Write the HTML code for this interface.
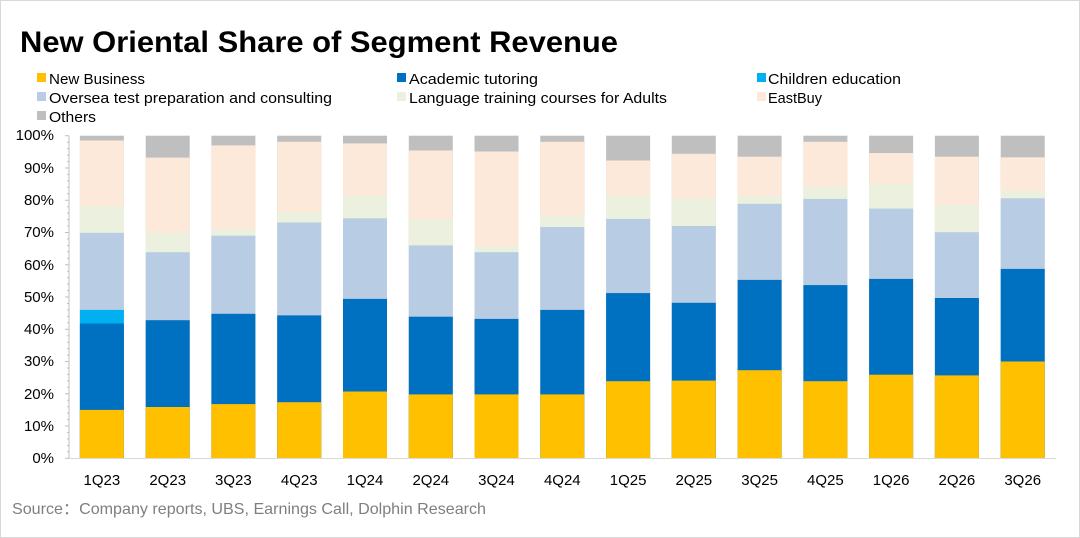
<!DOCTYPE html>
<html><head><meta charset="utf-8"><style>
html,body{margin:0;padding:0;background:#fff}
svg{display:block;font-family:"Liberation Sans",sans-serif}
</style></head><body>
<svg width="1080" height="538" viewBox="0 0 1080 538">
<rect x="0.5" y="0.5" width="1079" height="537" fill="#fff" stroke="#d9d9d9"/>
<text x="20" y="52" font-size="30" font-weight="bold" textLength="598" lengthAdjust="spacingAndGlyphs">New Oriental Share of Segment Revenue</text>
<g font-size="15" fill="#000">
<rect x="37" y="73" width="9" height="9" fill="#FFC000"/><text x="49" y="84" textLength="96" lengthAdjust="spacingAndGlyphs">New Business</text>
<rect x="37" y="92" width="9" height="9" fill="#B8CCE4"/><text x="49" y="103" textLength="283" lengthAdjust="spacingAndGlyphs">Oversea test preparation and consulting</text>
<rect x="37" y="111" width="9" height="9" fill="#BFBFBF"/><text x="49" y="122" textLength="47" lengthAdjust="spacingAndGlyphs">Others</text>
<rect x="397" y="73" width="9" height="9" fill="#0070C0"/><text x="409" y="84" textLength="129" lengthAdjust="spacingAndGlyphs">Academic tutoring</text>
<rect x="397" y="92" width="9" height="9" fill="#EBF1DE"/><text x="409" y="103" textLength="258" lengthAdjust="spacingAndGlyphs">Language training courses for Adults</text>
<rect x="757" y="73" width="9" height="9" fill="#00B0F0"/><text x="768" y="84" textLength="133" lengthAdjust="spacingAndGlyphs">Children education</text>
<rect x="757" y="92" width="9" height="9" fill="#FDE9D9"/><text x="768" y="103" textLength="54" lengthAdjust="spacingAndGlyphs">EastBuy</text>
</g>
<g font-size="15" text-anchor="end">
<text x="54" y="463">0%</text><text x="54" y="431">10%</text><text x="54" y="399">20%</text><text x="54" y="366">30%</text><text x="54" y="334">40%</text><text x="54" y="302">50%</text><text x="54" y="270">60%</text><text x="54" y="237">70%</text><text x="54" y="205">80%</text><text x="54" y="173">90%</text><text x="54" y="140">100%</text>
</g>
<line x1="69" y1="135.7" x2="69" y2="458.3" stroke="#bfbfbf"/>
<g stroke="#bfbfbf">
<path d="M65 458.3H69M65 426H69M65 393.8H69M65 361.5H69M65 329.3H69M65 297H69M65 264.7H69M65 232.5H69M65 200.2H69M65 168H69M65 135.7H69"/>
<path d="M67 451.8H69M67 445.4H69M67 439H69M67 432.5H69M67 419.5H69M67 413.1H69M67 406.7H69M67 400.2H69M67 387.3H69M67 380.9H69M67 374.4H69M67 368H69M67 355.1H69M67 348.6H69M67 342.2H69M67 335.7H69M67 322.8H69M67 316.4H69M67 309.9H69M67 303.5H69M67 290.6H69M67 284.1H69M67 277.7H69M67 271.2H69M67 258.3H69M67 251.8H69M67 245.4H69M67 239H69M67 226H69M67 219.6H69M67 213.1H69M67 206.7H69M67 193.8H69M67 187.3H69M67 180.9H69M67 174.4H69M67 161.5H69M67 155.1H69M67 148.6H69M67 142.2H69"/>
</g>
<defs>
<g id="g"><rect x="0" y="135.7" width="44" height="322.6" fill="#BFBFBF"/></g>
</defs>
<g>
<g transform="translate(79.9,0)"><use href="#g"/><rect y="140.5" width="44" height="317.8" fill="#FDE9D9"/><rect y="206.0" width="44" height="252.3" fill="#EBF1DE"/><rect y="232.8" width="44" height="225.5" fill="#B8CCE4"/><rect y="309.9" width="44" height="148.4" fill="#00B0F0"/><rect y="323.5" width="44" height="134.8" fill="#0070C0"/><rect y="409.9" width="44" height="48.4" fill="#FFC000"/></g>
<g transform="translate(145.7,0)"><use href="#g"/><rect y="157.6" width="44" height="300.7" fill="#FDE9D9"/><rect y="232.8" width="44" height="225.5" fill="#EBF1DE"/><rect y="252.2" width="44" height="206.1" fill="#B8CCE4"/><rect y="320.2" width="44" height="138.1" fill="#0070C0"/><rect y="407.0" width="44" height="51.3" fill="#FFC000"/></g>
<g transform="translate(211.4,0)"><use href="#g"/><rect y="145.4" width="44" height="312.9" fill="#FDE9D9"/><rect y="229.3" width="44" height="229.0" fill="#EBF1DE"/><rect y="235.7" width="44" height="222.6" fill="#B8CCE4"/><rect y="313.8" width="44" height="144.5" fill="#0070C0"/><rect y="404.1" width="44" height="54.2" fill="#FFC000"/></g>
<g transform="translate(277.2,0)"><use href="#g"/><rect y="141.8" width="44" height="316.5" fill="#FDE9D9"/><rect y="212.2" width="44" height="246.1" fill="#EBF1DE"/><rect y="222.5" width="44" height="235.8" fill="#B8CCE4"/><rect y="315.4" width="44" height="142.9" fill="#0070C0"/><rect y="402.2" width="44" height="56.1" fill="#FFC000"/></g>
<g transform="translate(343.0,0)"><use href="#g"/><rect y="143.4" width="44" height="314.9" fill="#FDE9D9"/><rect y="195.4" width="44" height="262.9" fill="#EBF1DE"/><rect y="218.3" width="44" height="240.0" fill="#B8CCE4"/><rect y="298.9" width="44" height="159.4" fill="#0070C0"/><rect y="391.5" width="44" height="66.8" fill="#FFC000"/></g>
<g transform="translate(408.8,0)"><use href="#g"/><rect y="150.5" width="44" height="307.8" fill="#FDE9D9"/><rect y="219.6" width="44" height="238.7" fill="#EBF1DE"/><rect y="245.4" width="44" height="212.9" fill="#B8CCE4"/><rect y="316.7" width="44" height="141.6" fill="#0070C0"/><rect y="394.4" width="44" height="63.9" fill="#FFC000"/></g>
<g transform="translate(474.5,0)"><use href="#g"/><rect y="151.5" width="44" height="306.8" fill="#FDE9D9"/><rect y="246.4" width="44" height="211.9" fill="#EBF1DE"/><rect y="252.2" width="44" height="206.1" fill="#B8CCE4"/><rect y="318.9" width="44" height="139.4" fill="#0070C0"/><rect y="394.4" width="44" height="63.9" fill="#FFC000"/></g>
<g transform="translate(540.3,0)"><use href="#g"/><rect y="141.8" width="44" height="316.5" fill="#FDE9D9"/><rect y="215.4" width="44" height="242.9" fill="#EBF1DE"/><rect y="227.0" width="44" height="231.3" fill="#B8CCE4"/><rect y="309.9" width="44" height="148.4" fill="#0070C0"/><rect y="394.4" width="44" height="63.9" fill="#FFC000"/></g>
<g transform="translate(606.1,0)"><use href="#g"/><rect y="160.5" width="44" height="297.8" fill="#FDE9D9"/><rect y="196.0" width="44" height="262.3" fill="#EBF1DE"/><rect y="218.9" width="44" height="239.4" fill="#B8CCE4"/><rect y="293.1" width="44" height="165.2" fill="#0070C0"/><rect y="381.2" width="44" height="77.1" fill="#FFC000"/></g>
<g transform="translate(671.8,0)"><use href="#g"/><rect y="153.8" width="44" height="304.5" fill="#FDE9D9"/><rect y="198.6" width="44" height="259.7" fill="#EBF1DE"/><rect y="226.0" width="44" height="232.3" fill="#B8CCE4"/><rect y="302.8" width="44" height="155.5" fill="#0070C0"/><rect y="380.6" width="44" height="77.7" fill="#FFC000"/></g>
<g transform="translate(737.6,0)"><use href="#g"/><rect y="156.7" width="44" height="301.6" fill="#FDE9D9"/><rect y="196.0" width="44" height="262.3" fill="#EBF1DE"/><rect y="203.8" width="44" height="254.5" fill="#B8CCE4"/><rect y="279.9" width="44" height="178.4" fill="#0070C0"/><rect y="370.2" width="44" height="88.1" fill="#FFC000"/></g>
<g transform="translate(803.4,0)"><use href="#g"/><rect y="141.8" width="44" height="316.5" fill="#FDE9D9"/><rect y="186.7" width="44" height="271.6" fill="#EBF1DE"/><rect y="198.9" width="44" height="259.4" fill="#B8CCE4"/><rect y="285.1" width="44" height="173.2" fill="#0070C0"/><rect y="381.2" width="44" height="77.1" fill="#FFC000"/></g>
<g transform="translate(869.1,0)"><use href="#g"/><rect y="153.1" width="44" height="305.2" fill="#FDE9D9"/><rect y="184.1" width="44" height="274.2" fill="#EBF1DE"/><rect y="208.6" width="44" height="249.7" fill="#B8CCE4"/><rect y="278.9" width="44" height="179.4" fill="#0070C0"/><rect y="374.7" width="44" height="83.6" fill="#FFC000"/></g>
<g transform="translate(934.9,0)"><use href="#g"/><rect y="156.7" width="44" height="301.6" fill="#FDE9D9"/><rect y="205.1" width="44" height="253.2" fill="#EBF1DE"/><rect y="232.2" width="44" height="226.1" fill="#B8CCE4"/><rect y="298.0" width="44" height="160.3" fill="#0070C0"/><rect y="375.4" width="44" height="82.9" fill="#FFC000"/></g>
<g transform="translate(1000.7,0)"><use href="#g"/><rect y="157.3" width="44" height="301.0" fill="#FDE9D9"/><rect y="190.5" width="44" height="267.8" fill="#EBF1DE"/><rect y="198.3" width="44" height="260.0" fill="#B8CCE4"/><rect y="268.9" width="44" height="189.4" fill="#0070C0"/><rect y="361.5" width="44" height="96.8" fill="#FFC000"/></g>
</g>
<line x1="69" y1="458.5" x2="1056" y2="458.5" stroke="#d9d9d9"/>
<g font-size="15" text-anchor="middle">
<text x="101.9" y="485">1Q23</text><text x="167.7" y="485">2Q23</text><text x="233.4" y="485">3Q23</text><text x="299.2" y="485">4Q23</text><text x="365" y="485">1Q24</text><text x="430.8" y="485">2Q24</text><text x="496.5" y="485">3Q24</text><text x="562.3" y="485">4Q24</text><text x="628.1" y="485">1Q25</text><text x="693.8" y="485">2Q25</text><text x="759.6" y="485">3Q25</text><text x="825.4" y="485">4Q25</text><text x="891.1" y="485">1Q26</text><text x="956.9" y="485">2Q26</text><text x="1022.7" y="485">3Q26</text>
</g>
<text x="12" y="514" font-size="16" fill="#7f7f7f" textLength="474" lengthAdjust="spacingAndGlyphs">Source：Company reports, UBS, Earnings Call, Dolphin Research</text>
</svg>
</body></html>
